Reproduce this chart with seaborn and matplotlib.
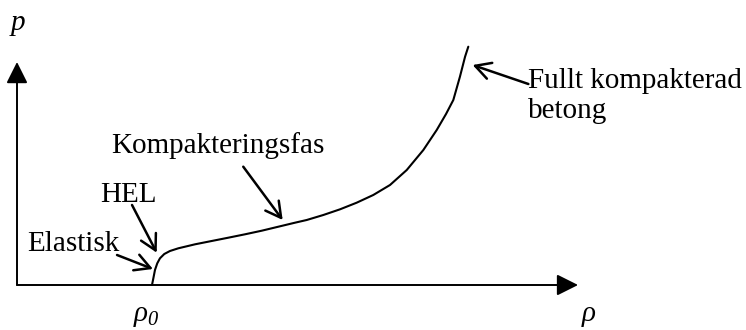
import matplotlib
matplotlib.use("Agg")
import matplotlib.pyplot as plt
import seaborn as sns
import pandas as pd

# --- data ---
rho = [1.000, 1.010, 1.022, 1.039, 1.059, 1.091, 1.133, 1.195, 1.319, 1.442,
       1.565, 1.689, 1.813, 1.936, 2.059, 2.146, 2.269, 2.393, 2.516, 2.639,
       2.763, 2.887, 3.010, 3.109, 3.178, 3.232, 3.281, 3.319, 3.343]
p = [0.000, 0.067, 0.150, 0.217, 0.267, 0.310, 0.340, 0.367, 0.407, 0.440,
     0.473, 0.507, 0.543, 0.583, 0.623, 0.650, 0.700, 0.757, 0.823, 0.900,
     1.000, 1.150, 1.350, 1.550, 1.710, 1.850, 2.083, 2.283, 2.383]
labels = ["Elastisk", "HEL", "Kompakteringsfas", "Fullt kompakterad\nbetong"]
axis_labels = ["p", r"$ρ_0$", r"$ρ$"]

df = pd.DataFrame({"rho": rho, "p": p})

sns.set_theme(style="white")
plt.rcParams["font.family"] = ["Liberation Serif", "DejaVu Serif"]
plt.rcParams["text.color"] = "black"
plt.rcParams["mathtext.fontset"] = "custom"
plt.rcParams["mathtext.rm"] = "Liberation Serif:italic"
plt.rcParams["mathtext.it"] = "Liberation Serif:italic"
plt.rcParams["mathtext.default"] = "it"

fig = plt.figure(figsize=(7.46, 3.30), dpi=100)
ax = fig.add_axes([0, 0, 1, 1])
ax.set_xlim(-17 / 135, (746 - 17) / 135)
ax.set_ylim(-0.45, 2.85)
ax.axis("off")

sns.lineplot(data=df, x="rho", y="p", color="black", linewidth=1.5,
             sort=False, ax=ax, legend=False)

# coordinate axes with filled arrow heads
axis_style = dict(arrowstyle="-|>,head_length=1.0,head_width=0.5",
                  mutation_scale=13, color="black", lw=1.4,
                  shrinkA=0, shrinkB=0)
ax.annotate("", xy=(4.156, 0), xytext=(0, 0), arrowprops=axis_style)
ax.annotate("", xy=(0, 2.23), xytext=(0, 0), arrowprops=axis_style)

fs = 21
ax.text(-0.044, 2.55, axis_labels[0], fontsize=fs, style="italic",
        ha="left", va="baseline", color="black")
ax.text(0.860, -0.36, axis_labels[1], fontsize=fs, ha="left", va="baseline",
        color="black")
ax.text(4.175, -0.36, axis_labels[2], fontsize=fs, ha="left", va="baseline",
        color="black")

# labels with open arrows
pointer = dict(arrowstyle="->,head_length=0.55,head_width=0.3",
               mutation_scale=20, color="black", lw=1.8,
               shrinkA=0, shrinkB=0)
ax.text(0.074, 0.34, labels[0], fontsize=fs, ha="left", va="baseline",
        color="black")
ax.annotate("", xy=(1.007, 0.16), xytext=(0.741, 0.30), arrowprops=pointer)

ax.text(0.615, 0.833, labels[1], fontsize=fs, ha="left", va="baseline",
        color="black")
ax.annotate("", xy=(1.035, 0.323), xytext=(0.852, 0.80), arrowprops=pointer)

ax.text(0.701, 1.323, labels[2], fontsize=fs, ha="left", va="baseline",
        color="black")
ax.annotate("", xy=(1.968, 0.65), xytext=(1.676, 1.183), arrowprops=pointer)

ax.text(3.785, 1.667, labels[3], fontsize=fs, ha="left", va="baseline",
        linespacing=1.2, color="black")
ax.annotate("", xy=(3.375, 2.20), xytext=(3.788, 2.01), arrowprops=pointer)

fig.savefig("out.png", dpi=100)
